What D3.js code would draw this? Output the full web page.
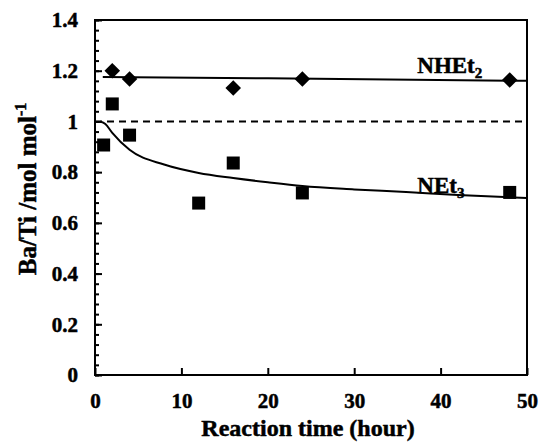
<html>
<head>
<style>
  body { margin: 0; background: white; font-family: "Liberation Serif", "Times New Roman", serif; }
  text { font-weight: bold; fill: black; stroke: black; stroke-width: 0.5px; }
</style>
<script src="https://cdn.jsdelivr.net/npm/d3@7"></script>
</head>
<body>
<svg id="chart"></svg>
<script>
// data
let nhTime = [2, 4, 16, 24, 48]
let nhRatio = [1.2, 1.167, 1.132, 1.167, 1.163]
let neTime = [1, 2, 4, 12, 16, 24, 48]
let neRatio = [0.907, 1.069, 0.946, 0.678, 0.836, 0.718, 0.72]
// fitted curves, points
let nhFitTime = [0.9, 20, 50]
let nhFitRatio = [1.175, 1.17, 1.16]
let neFitTime = [0.6, 1.2, 2, 4, 8, 12, 16, 20, 24, 30, 36, 42, 50]
let neFitRatio = [1.0, 0.99, 0.955, 0.888, 0.83, 0.797, 0.777, 0.76, 0.745, 0.732, 0.722, 0.71, 0.698]
let xTicks = [0, 10, 20, 30, 40, 50]
let yTicks = [0, 0.2, 0.4, 0.6, 0.8, 1, 1.2, 1.4]

let width = 539, height = 448
let margin = { top: 20, right: 12, bottom: 73, left: 95 }
let bodyWidth = width - margin.left - margin.right
let bodyHeight = height - margin.top - margin.bottom

let svg = d3.select('#chart').attr('width', width).attr('height', height)
let body = svg.append('g').attr('transform', `translate(${margin.left},${margin.top})`)

let x = d3.scaleLinear().domain([0, 50]).range([0, bodyWidth])
let y = d3.scaleLinear().domain([0, 1.4]).range([bodyHeight, 0])

// frame
body.append('rect').attr('width', bodyWidth).attr('height', bodyHeight)
  .attr('fill', 'none').attr('stroke', 'black').attr('stroke-width', 2)

// y axis: minor ticks every 0.04, major every 0.2, pointing inside
let yMinor = d3.range(0, 1.4001, 0.04)
let yAxisMinor = d3.axisRight(y).tickValues(yMinor).tickSize(4).tickFormat('')
body.append('g').call(yAxisMinor).call(g => g.select('.domain').remove())
let yAxis = d3.axisLeft(y).tickValues(yTicks).tickSize(-7).tickPadding(17)
  .tickFormat(d => d === 0 || d === 1 ? d3.format('d')(d) : d3.format('.1f')(d))
body.append('g').call(yAxis).call(g => g.select('.domain').remove())

let xAxis = d3.axisBottom(x).tickValues(xTicks).tickSize(-7).tickPadding(18).tickFormat(d3.format('d'))
body.append('g').attr('transform', `translate(0,${bodyHeight})`).call(xAxis)
  .call(g => g.select('.domain').remove())

svg.selectAll('.tick line').attr('stroke', 'black').attr('stroke-width', 2)
svg.selectAll('.tick text').style('font-size', '21px').style('font-family', '"Liberation Serif", serif')

// dashed reference line at 1
body.append('line').attr('x1', x(0)).attr('x2', x(50)).attr('y1', y(1)).attr('y2', y(1))
  .attr('stroke', 'black').attr('stroke-width', 2).attr('stroke-dasharray', '7,5')

let line = d3.line().x(d => x(d[0])).y(d => y(d[1])).curve(d3.curveMonotoneX)
body.append('path').datum(d3.zip(nhFitTime, nhFitRatio)).attr('d', line)
  .attr('fill', 'none').attr('stroke', 'black').attr('stroke-width', 2)
body.append('path').datum(d3.zip(neFitTime, neFitRatio)).attr('d', line)
  .attr('fill', 'none').attr('stroke', 'black').attr('stroke-width', 2)

// markers
body.selectAll('.diamond').data(d3.zip(nhTime, nhRatio)).enter().append('path')
  .attr('transform', d => `translate(${x(d[0])},${y(d[1])}) rotate(45)`)
  .attr('d', 'M-5.5,-5.5H5.5V5.5H-5.5Z').attr('fill', 'black')
body.selectAll('.square').data(d3.zip(neTime, neRatio)).enter().append('rect')
  .attr('x', d => x(d[0]) - 6.5).attr('y', d => y(d[1]) - 6.5)
  .attr('width', 13).attr('height', 13).attr('fill', 'black')

// series labels
let lab1 = body.append('text').attr('x', x(37.3)).attr('y', y(1.19)).style('font-size', '23px')
lab1.append('tspan').text('NHEt')
lab1.append('tspan').text('2').attr('dy', 5).style('font-size', '15px')
let lab2 = body.append('text').attr('x', x(37.3)).attr('y', y(0.718)).style('font-size', '23px')
lab2.append('tspan').text('NEt')
lab2.append('tspan').text('3').attr('dy', 5).style('font-size', '15px')

// axis titles
svg.append('text').attr('x', margin.left + bodyWidth / 2 - 3).attr('y', 436)
  .attr('text-anchor', 'middle').style('font-size', '24px').text('Reaction time (hour)')
let yt = svg.append('text').attr('transform', `translate(36,189) rotate(-90)`)
  .attr('text-anchor', 'middle').style('font-size', '25px')
yt.append('tspan').text('Ba/Ti /mol mol')
yt.append('tspan').text('-1').attr('dy', -10).style('font-size', '16px')
</script>
</body>
</html>
